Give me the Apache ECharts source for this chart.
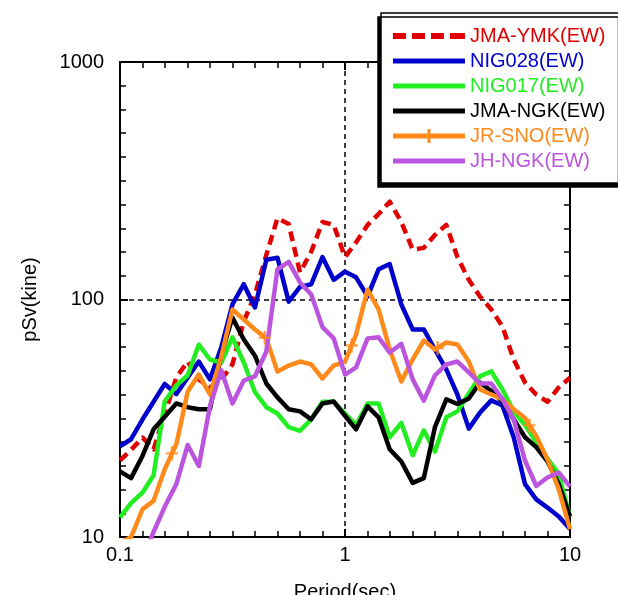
<!DOCTYPE html>
<html><head><meta charset="utf-8">
<script src="https://cdn.jsdelivr.net/npm/echarts@6/dist/echarts.min.js"></script>
<style>html,body{margin:0;padding:0;background:#fff}#c{width:618px;height:595px}</style>
</head><body><div id="c"></div>
<script>
// Period (sec) sampling grid shared by all series
const periods = [0.1,0.112,0.126,0.141,0.158,0.178,0.2,0.224,0.251,0.282,0.316,0.355,0.398,0.447,0.501,0.562,0.631,0.708,0.794,0.891,1.0,1.12,1.26,1.41,1.58,1.78,2.0,2.24,2.51,2.82,3.16,3.55,3.98,4.47,5.01,5.62,6.31,7.08,7.94,8.91,10];
// pSv (kine)
const jmaYmk = [21,23.3,26.2,23.4,32.8,47,54.8,46.1,42.6,46,53.3,80.8,105,154,220,208,130,159,212,206,151,174,206,229,258,212,162,165,187,206,151,121,103,90.8,77,55.9,44.7,39.8,37.1,42.6,46.9];
const nig028 = [24.1,25.8,31.3,37.1,44.1,40,47,54.8,46.1,63,95.3,116,92.6,147,150,98,113,116,151,121,131,124,103,134,141,95.3,74.8,74.8,61.6,50.8,39.8,28.6,33.4,37.6,35.8,26.3,16.7,14.4,13.3,12.2,10.8];
const nig017 = [12.1,13.9,15.4,18.2,37.2,43.5,48,64.6,55.9,54.3,69.3,54.3,40.7,35.2,33.1,29.0,28.0,31.3,37.1,37.1,33.1,29.6,36.5,36.5,26.3,30.2,22.1,28.1,22.9,31.9,33.8,40.2,47.5,49.8,41.8,33.8,29.6,25.1,21.4,18.4,12.2];
const jmaNgk = [18.9,17.7,22.0,28.4,32.1,36.5,35.2,34.5,34.5,58.7,83.9,67.9,58.0,44.3,38.7,34.5,33.8,31.3,36.5,37.2,32.4,28.4,35.5,31.9,23.4,20.8,16.9,17.7,29.0,38.0,36.3,38.3,44.7,41.2,37.2,31.3,26.3,23.9,20.8,16.7,12.2];
const jrSno = [9.4,10.0,13.1,14.2,19.3,24.6,41.0,48.3,39.8,57.5,90.8,82.4,74.8,68.6,49.7,52.7,54.8,53.3,46.5,52.7,54.8,71.2,110,90.8,61.6,45.2,55.9,67.2,61.6,65.9,64.6,54.8,41.8,39.8,38.0,34.5,31.7,26.6,21.2,15.9,10.8];
const jhNgk = [5.5,6.5,8.1,10.5,13.4,16.7,24.4,19.9,35.5,50.3,36.5,45.6,47.5,60.4,134,144,118,105,76.5,68.6,48.3,51.8,68.6,69.3,59.8,65.0,46.1,37.5,47.9,53.3,54.8,49.3,44.3,44.3,38.0,31.3,21.0,16.4,17.8,18.7,16.3];
// JR-SNO "+" markers
const jrSnoMarkPeriods = [0.17,0.44,1.07,2.58,6.6];
const jrSnoMarkValues = [22.5,69,64,62.5,29.5];
const xTicks = ['0.1','1','10'];
const yTicks = ['10','100','1000'];
// decade exponents of the axis frame (used only for the tick-mark axes)
const xDecades = [-1, 1];
const yDecades = [1, 3];

const names = ['JMA-YMK(EW)','NIG028(EW)','NIG017(EW)','JMA-NGK(EW)','JR-SNO(EW)','JH-NGK(EW)'];
const colors = ['#e00000','#0000cc','#22ee22','#000000','#ff8a1c','#bb55dd'];
const values = [jmaYmk,nig028,nig017,jmaNgk,jrSno,jhNgk];
const FONT = "'Liberation Sans', Arial, sans-serif";
const plusPath = 'path://M-1.2,-7h2.4v14h-2.4z M-6,-1.2h12v2.4h-12z';
// legend icons (72 x 14 box; tiny corner dots fix the bounding box)
const corners = 'M0,0h0.01v0.01h-0.01z M72,14h0.01v0.01h-0.01z ';
const iconSolid = 'path://' + corners + 'M0,4.5h72v5h-72z';
const iconDash = 'path://' + corners + 'M0,4h13v6h-13z M19,4h13v6h-13z M38,4h13v6h-13z M57,4h15v6h-15z';
const iconPlus = 'path://' + corners + 'M0,4.5h72v5h-72z M34.5,0h3v14h-3z';

const pairs = arr => periods.map((p,i)=>[p,arr[i]]);

// data axes are index 1 (log); tick-mark frame axes are index 0 (bottom/left) and 2 (top/right)
const series = names.map((n,i)=>({
  name:n, type:'line', xAxisIndex:1, yAxisIndex:1,
  data:pairs(values[i]), symbol:'none', smooth:false, clip:true,
  lineStyle:{color:colors[i], width:4.5, type: i===0?[10,6]:'solid', cap:'butt', join:'round'},
  itemStyle:{color:colors[i]}, z:2+i
}));
series.push({
  name:'JR-SNO(EW)', type:'scatter', xAxisIndex:1, yAxisIndex:1,
  data:jrSnoMarkPeriods.map((p,i)=>[p,jrSnoMarkValues[i]]),
  symbol:plusPath, symbolSize:[12,14], itemStyle:{color:colors[4]}, z:7, silent:true
});
// invisible helpers so the tick-mark axes have an extent (they draw nothing)
[0,2].forEach(k=>series.push({
  name:'_frame'+k, type:'line', xAxisIndex:k, yAxisIndex:k, silent:true,
  data:[[xDecades[0],yDecades[0]],[xDecades[1],yDecades[1]]],
  symbol:'none', lineStyle:{color:'#fff', opacity:0, width:1}, z:0
}));

const tickAxisCommon = {
  type:'value', interval:1, splitLine:{show:false},
  axisLabel:{show:false},
  axisTick:{show:true, inside:true, length:8, lineStyle:{color:'#000', width:2}},
  minorTick:{show:true, splitNumber:10, length:6, lineStyle:{color:'#000', width:1.5}},
  axisLine:{show:true, onZero:false, lineStyle:{color:'#000', width:2}}
};
const frameLine = {show:true, onZero:false, lineStyle:{color:'#000', width:2}};

const option = {
  backgroundColor:'#fff',
  animation:false,
  textStyle:{fontFamily:FONT},
  grid:{left:120, right:48, top:62, bottom:58, outerBoundsMode:'none'},
  xAxis:[
    Object.assign({}, tickAxisCommon, {position:'bottom', min:xDecades[0], max:xDecades[1]}),
    {type:'log', logBase:10, min:0.1, max:10, position:'bottom',
     name:'Period(sec)', nameLocation:'middle', nameGap:45,
     nameTextStyle:{fontSize:20, color:'#000', fontFamily:FONT},
     axisLine:frameLine,
     axisTick:{show:false},
     axisLabel:{fontSize:20, color:'#000', margin:8, fontFamily:FONT,
       formatter:(v)=>{const s=xTicks.find(t=>Math.abs(parseFloat(t)-v)<1e-9);return s||'';}},
     splitLine:{show:true, lineStyle:{color:'#000', width:1.5, type:[5,4]}}},
    Object.assign({}, tickAxisCommon, {position:'top', min:xDecades[0], max:xDecades[1]})
  ],
  yAxis:[
    Object.assign({}, tickAxisCommon, {position:'left', min:yDecades[0], max:yDecades[1]}),
    {type:'log', logBase:10, min:10, max:1000, position:'left',
     name:'pSv(kine)', nameLocation:'middle', nameGap:80, nameRotate:90,
     nameTextStyle:{fontSize:20, color:'#000', fontFamily:FONT},
     axisLine:frameLine,
     axisTick:{show:false},
     axisLabel:{fontSize:20, color:'#000', margin:16, fontFamily:FONT,
       formatter:(v)=>{const s=yTicks.find(t=>Math.abs(parseFloat(t)-v)<1e-6);return s||'';}},
     splitLine:{show:true, lineStyle:{color:'#000', width:1.5, type:[5,4]}}},
    Object.assign({}, tickAxisCommon, {position:'right', min:yDecades[0], max:yDecades[1]})
  ],
  legend:{
    orient:'vertical', left:381, top:13,
    padding:[13,16,12,12], itemGap:5, itemWidth:72, itemHeight:14,
    backgroundColor:'#fff', borderColor:'#000', borderWidth:1.5,
    shadowColor:'#000', shadowBlur:0, shadowOffsetX:-3, shadowOffsetY:4,
    textStyle:{fontSize:20, fontFamily:FONT},
    data:names.map((n,i)=>({
      name:n,
      icon: i===0 ? iconDash : (i===4 ? iconPlus : iconSolid),
      itemStyle:{color:colors[i], borderWidth:0},
      textStyle:{color:colors[i], fontSize:20, fontFamily:FONT}
    }))
  },
  series:series
};
const chart = echarts.init(document.getElementById('c'), null, {renderer:'canvas'});
chart.setOption(option);
</script></body></html>
